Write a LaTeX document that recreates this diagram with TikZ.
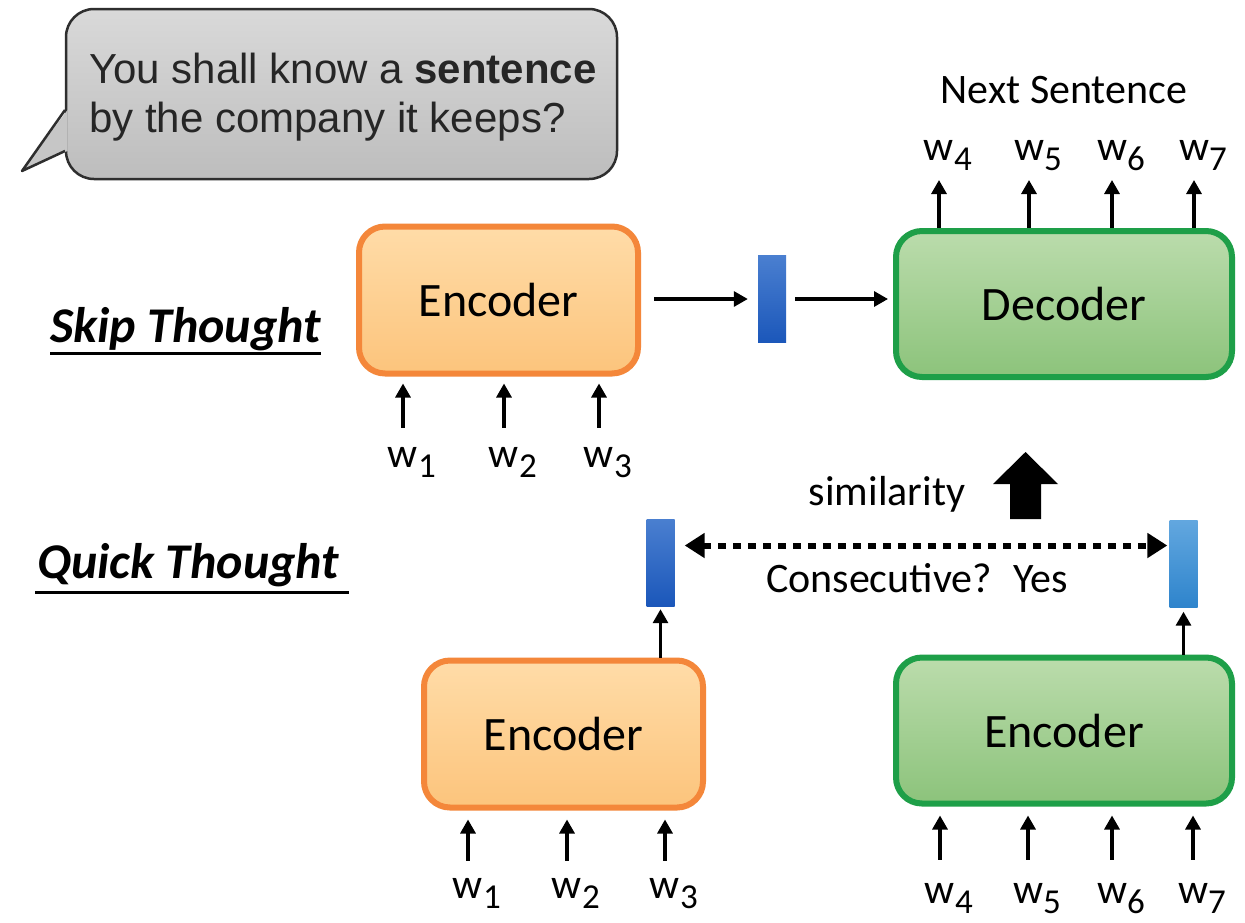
\documentclass[tikz,border=0pt]{standalone}
\usepackage{fontspec}
\setmainfont{Carlito}
\newfontfamily\bubblefont{Liberation Sans}
\usepackage{xcolor}
\usetikzlibrary{arrows.meta, positioning, calc}

\definecolor{encorange}{HTML}{F4873A}
\definecolor{enctop}{HTML}{FFDCA8}
\definecolor{encbot}{HTML}{FCC47C}
\definecolor{decgreen}{HTML}{1E9F48}
\definecolor{dectop}{HTML}{BBDCAC}
\definecolor{decbot}{HTML}{8CC37B}
\definecolor{vectop}{HTML}{4A7FD0}
\definecolor{vecbot}{HTML}{1B57BA}
\definecolor{veclighttop}{HTML}{62A7DF}
\definecolor{veclightbot}{HTML}{2E84CC}
\definecolor{bubbletop}{HTML}{D9D9D9}
\definecolor{bubblebot}{HTML}{BDBDBD}
\definecolor{bubblemid}{HTML}{C6C6C6}
\definecolor{bubbleline}{HTML}{2E2E2E}

\newcommand{\wsub}[1]{w\rlap{\raisebox{-10pt}{\fontsize{35}{35}\selectfont #1}}}

\begin{document}
\begin{tikzpicture}[
    x=1pt, y=-1pt,
    font=\fontsize{42}{50}\selectfont,
    >={Triangle[length=14pt,width=15pt]},
    encblock/.style={
      draw=encorange,
      line width=6pt,
      rounded corners=26pt,
      top color=enctop,
      bottom color=encbot,
      minimum width=279pt,
      minimum height=147pt,
      font=\fontsize{48}{58}\selectfont
    },
    decblock/.style={
      draw=decgreen,
      line width=6pt,
      rounded corners=26pt,
      top color=dectop,
      bottom color=decbot,
      minimum width=336pt,
      minimum height=146pt,
      font=\fontsize{48}{58}\selectfont
    },
    vecbar/.style={
      inner sep=0pt,
      minimum width=28pt,
      minimum height=87pt,
      top color=vectop,
      bottom color=vecbot
    },
    veclight/.style={top color=veclighttop, bottom color=veclightbot},
    wlabel/.style={inner sep=0pt, anchor=base},
    title/.style={inner sep=0pt, anchor=base west,
      font=\fontsize{50}{60}\selectfont\bfseries\itshape},
    arrow/.style={->, line width=3.2pt},
    dotarrow/.style={<->, line width=6pt, dash pattern=on 8pt off 7pt,
      >={Triangle[length=20pt,width=24pt]}}
]

% 0) page
\fill[white] (0,0) rectangle (1245,922);

% 1) speech bubble
\node[draw=bubbleline, line width=2.5pt, rounded corners=28pt,
      top color=bubbletop, bottom color=bubblebot,
      minimum width=551pt, minimum height=170pt] (bubble) at (341.5,94) {};
\fill[bubblemid] (67.5,110) -- (22,171) -- (67.5,151) -- cycle;
\draw[bubbleline, line width=2.5pt, line join=round] (65,110) -- (22,171) -- (65,151);
\node[anchor=base west, inner sep=0pt, text=black!85,
      font=\bubblefont\fontsize{42}{49}\selectfont] (line1) at (89,83)
  {You shall know a \textbf{sentence}};
\node[anchor=base west, inner sep=0pt, text=black!85,
      font=\bubblefont\fontsize{42}{49}\selectfont] (line2) at (89,132)
  {by the company it keeps?};

% 2) titles
\node[title] (skipT) at (50,342) {Skip Thought};
\draw[line width=3pt] ([yshift=-11pt]skipT.base west) -- ([yshift=-11pt]skipT.base east);
\node[title] (quickT) at (37,578) {Quick Thought};
\draw[line width=3pt] ([xshift=-2pt,yshift=-14pt]quickT.base west) -- ([xshift=10pt,yshift=-14pt]quickT.base east);

% 3) skip thought: encoder -> vector -> decoder
\node[encblock] (enc1) at (498.5,300) {Encoder};
\node[vecbar] (vec1) at (772,299) {};
\node[decblock] (dec) at (1064,304) {Decoder};

\draw[arrow, shorten <=13pt, shorten >=10pt] (enc1.east |- vec1.west) -- (vec1.west);
\draw[arrow, shorten <=9pt, shorten >=5pt] (vec1.east) -- (vec1.east -| dec.west);

% inputs w1..w3
\node[wlabel] (sw1) at (403,467) {\wsub{1}};
\node[wlabel] (sw2) at (504,467) {\wsub{2}};
\node[wlabel] (sw3) at (599,467) {\wsub{3}};
\foreach \w in {sw1,sw2,sw3}
  \draw[arrow, shorten <=19pt, shorten >=7pt] (\w.north) -- (\w.north |- enc1.south);

% outputs w4..w7
\node[wlabel] (ow4) at (939,160) {\wsub{4}};
\node[wlabel] (ow5) at (1029,160) {\wsub{5}};
\node[wlabel] (ow6) at (1112,160) {\wsub{6}};
\node[wlabel] (ow7) at (1194,160) {\wsub{7}};
\foreach \w in {ow4,ow5,ow6,ow7}
  \draw[arrow, shorten >=20pt] (\w.base |- dec.north) -- (\w.base);
\node[wlabel] (nextS) at (1064,103) {Next Sentence};

% 4) quick thought: two encoders and their vectors
\node[encblock] (enc2) at (563.5,734) {Encoder};
\node[decblock] (enc3) at (1064,730.5) {Encoder};
\node[vecbar] (vecA) at (660.5,562.5) {};
\node[vecbar, veclight] (vecB) at (1183.5,564) {};

\draw[arrow, shorten >=3pt] (vecA.south |- enc2.north) -- (vecA.south);
\draw[arrow, shorten >=4pt] (vecB.south |- enc3.north) -- (vecB.south);

\draw[dotarrow, shorten <=10pt, shorten >=2pt]
  ([yshift=17pt]vecA.east) -- ([yshift=17pt]vecA.east -| vecB.west);
\node[wlabel] (simL) at (887,505) {similarity};
\node[wlabel] (consL) at (917,592) {Consecutive?\hspace{0.5em}Yes};

% big arrow towards decoder
\fill (1010,519) -- (1010,484) -- (993,484) -- (1025.5,452) -- (1058,484)
  -- (1041,484) -- (1041,519) -- cycle;

% inputs below the two encoders
\node[wlabel] (qw1) at (468,898) {\wsub{1}};
\node[wlabel] (qw2) at (567,898) {\wsub{2}};
\node[wlabel] (qw3) at (665,898) {\wsub{3}};
\foreach \w in {qw1,qw2,qw3}
  \draw[arrow, shorten <=17pt, shorten >=9pt] (\w.north) -- (\w.north |- enc2.south);
\node[wlabel] (qw4) at (940,903) {\wsub{4}};
\node[wlabel] (qw5) at (1028,903) {\wsub{5}};
\node[wlabel] (qw6) at (1112,903) {\wsub{6}};
\node[wlabel] (qw7) at (1193,903) {\wsub{7}};
\foreach \w in {qw4,qw5,qw6,qw7}
  \draw[arrow, shorten <=23pt, shorten >=9pt] (\w.north) -- (\w.north |- enc3.south);

\end{tikzpicture}
\end{document}
